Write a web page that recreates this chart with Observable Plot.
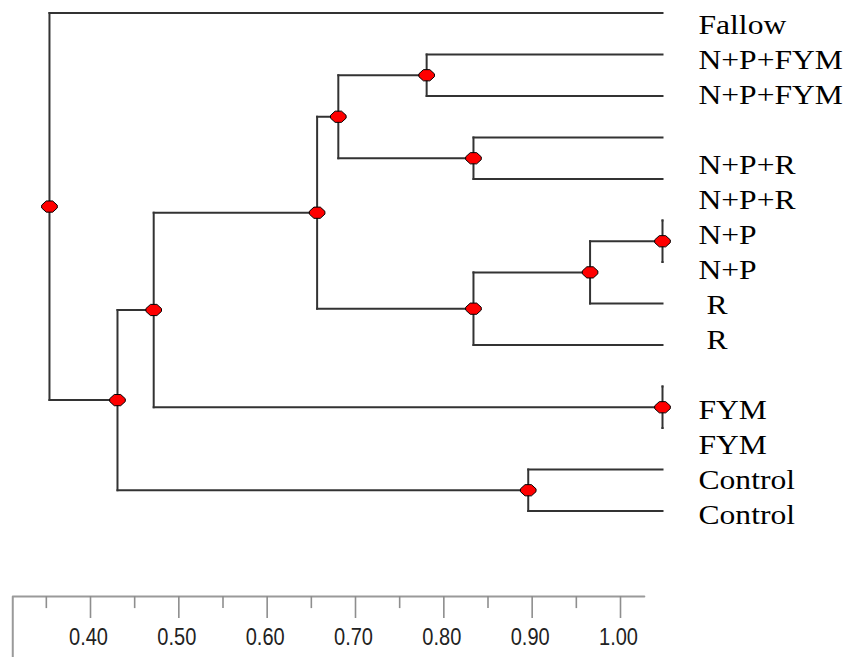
<!DOCTYPE html>
<html>
<head>
<meta charset="utf-8">
<script src="https://cdn.jsdelivr.net/npm/d3@7"></script>
<script src="https://cdn.jsdelivr.net/npm/@observablehq/plot@0.6"></script>
<style>
  body { margin: 0; background: #fff; }
  #chart { position: relative; width: 847px; height: 657px; overflow: hidden; }
  #chart svg { position: absolute; left: 0; top: 0; }
</style>
</head>
<body>
<div id="chart"></div>
<script>
// ---- Data ----
// Tree leaves, top to bottom
const leafNames = ["Fallow", "N+P+FYM", "N+P+FYM", "N+P+R", "N+P+R", "N+P", "N+P", "R", "R", "FYM", "FYM", "Control", "Control"];
// Text column printed at the right (blank lines included, as in the original)
const labelColumn = ["Fallow", "N+P+FYM", "N+P+FYM", "", "N+P+R", "N+P+R", "N+P", "N+P", " R", " R", "", "FYM", "FYM", "Control", "Control"];
// Merges: leaves are 0..12, merge k creates node 13+k
const mergeLeft  = [1, 3, 5, 9, 11, 15, 18, 13, 20, 21, 22, 0];
const mergeRight = [2, 4, 6, 10, 12, 7, 8, 14, 19, 16, 17, 23];
const mergeSimilarity = [0.733, 0.786, 1.00, 1.00, 0.848, 0.918, 0.786, 0.633, 0.609, 0.424, 0.383, 0.306];
// Ruler
const majorTicks = [0.40, 0.50, 0.60, 0.70, 0.80, 0.90, 1.00];
const minorTicks = [0.35, 0.45, 0.55, 0.65, 0.75, 0.85, 0.95];
const rulerStart = 0.312;
const rulerEnd = 1.027;

// ---- Layout of the dendrogram ----
const nodes = leafNames.map((name, i) => ({name, x: 1.0, y: i}));
mergeLeft.forEach((l, k) => {
  const a = nodes[l], b = nodes[mergeRight[k]];
  nodes.push({x: mergeSimilarity[k], y: (a.y + b.y) / 2, kids: [a, b]});
});
const internal = nodes.filter(d => d.kids);
const segments = [];
internal.forEach(d => {
  segments.push({x1: d.x, y1: d.kids[0].y, x2: d.x, y2: d.kids[1].y});
  d.kids.forEach(c => segments.push({x1: d.x, y1: c.y, x2: c.x, y2: c.y}));
});

const nodeSymbol = {
  draw(ctx) {
    ctx.moveTo(-7.8, -1.4); ctx.lineTo(-3.2, -5.6); ctx.lineTo(3.2, -5.6); ctx.lineTo(7.8, -1.4);
    ctx.lineTo(7.8, 1.4); ctx.lineTo(3.2, 5.6); ctx.lineTo(-3.2, 5.6); ctx.lineTo(-7.8, 1.4);
    ctx.closePath();
  }
};

const baseStyle = "background: transparent; white-space: pre; overflow: visible;";

function stretchText(svg, sx) {
  svg.querySelectorAll('g[aria-label="text"] text').forEach(t => {
    const tr = t.getAttribute("transform") || "";
    const x = +(t.getAttribute("x") || 0);
    t.setAttribute("transform", `${tr} translate(${x},0) scale(${sx},1) translate(${-x},0)`);
  });
}

const tree = Plot.plot({
  width: 847, height: 657, margin: 0,
  style: baseStyle,
  x: {domain: [0.4, 1.0], range: [132, 662], axis: null},
  y: {domain: [0, 12], range: [12.5, 510.5], axis: null},
  marks: [
    Plot.link(segments, {x1: "x1", y1: "y1", x2: "x2", y2: "y2", stroke: "#333", strokeWidth: 2, strokeLinecap: "square"}),
    Plot.dot(internal, {x: "x", y: "y", symbol: nodeSymbol, fill: "#ff0000", stroke: "#000", strokeWidth: 1})
  ]
});

const labels = Plot.plot({
  width: 847, height: 657, margin: 0, marginLeft: 698,
  style: baseStyle,
  y: {domain: [0, labelColumn.length - 1], range: [25, 515], axis: null},
  marks: [
    Plot.text(labelColumn, {y: (d, i) => i, text: d => d, frameAnchor: "left", textAnchor: "start",
      fontSize: 27, fontFamily: "'Liberation Serif', 'Times New Roman', serif", fill: "#000"})
  ]
});
stretchText(labels, 1.17);

const ruler = Plot.plot({
  width: 847, height: 657, margin: 0,
  style: baseStyle,
  x: {domain: [0.4, 1.0], range: [90, 620], axis: null},
  y: {domain: [0, 1], range: [596, 618], axis: null},
  marks: [
    Plot.line([[rulerEnd, 0], [rulerStart, 0], [rulerStart, 2.8]], {stroke: "#9a9a9a", strokeWidth: 2, strokeLinejoin: "round"}),
    Plot.ruleX(majorTicks, {y1: 0, y2: 1, stroke: "#8e8e8e", strokeWidth: 1.6}),
    Plot.ruleX(minorTicks, {y1: 0, y2: 0.55, stroke: "#8e8e8e", strokeWidth: 1.6}),
    Plot.text(majorTicks, {x: d => d, y: 1.87, text: d => d.toFixed(2), dx: -2,
      fontSize: 23, fontFamily: "'Liberation Sans', Arial, sans-serif", fill: "#222"})
  ]
});
stretchText(ruler, 0.87);

const chart = document.getElementById("chart");
chart.append(tree, labels, ruler);
</script>
</body>
</html>
